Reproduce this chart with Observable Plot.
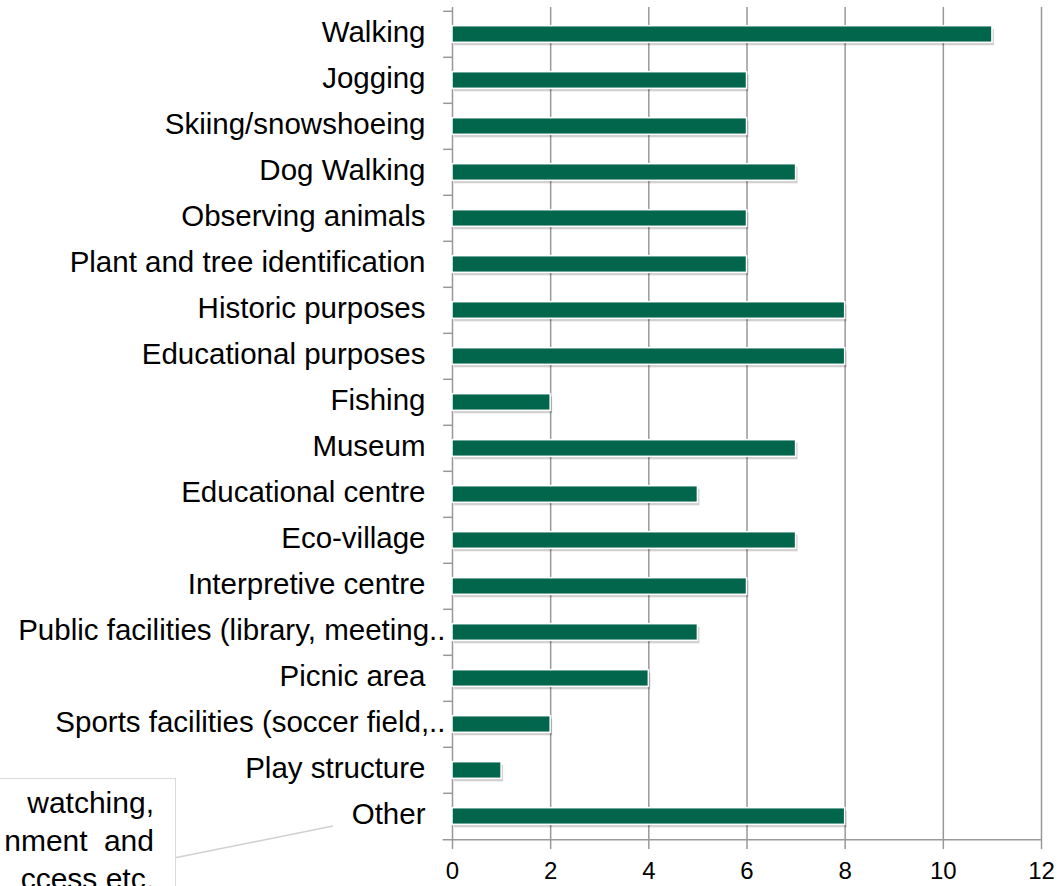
<!DOCTYPE html>
<html>
<head>
<meta charset="utf-8">
<script src="https://cdn.jsdelivr.net/npm/d3@7"></script>
<script src="https://cdn.jsdelivr.net/npm/@observablehq/plot@0.6"></script>
<style>
  html, body { margin: 0; padding: 0; background: #fff; overflow: hidden; }
  #wrap { position: relative; width: 1061px; height: 886px; overflow: hidden; font-family: "Liberation Sans", Arial, sans-serif; }
  #callout {
    position: absolute; left: -220px; top: 778px; width: 373px; height: 140px;
    border: 1px solid #d9d9d9; background: #fff; padding: 5px 21px 0 0;
    font-size: 30px; line-height: 38px; color: #000; text-align: right; white-space: nowrap;
  }
</style>
</head>
<body>
<div id="wrap"></div>
<script>
const categories = [
  "Walking", "Jogging", "Skiing/snowshoeing", "Dog Walking", "Observing animals",
  "Plant and tree identification", "Historic purposes", "Educational purposes", "Fishing",
  "Museum", "Educational centre", "Eco-village", "Interpretive centre",
  "Public facilities (library, meeting..", "Picnic area", "Sports facilities (soccer field,..",
  "Play structure", "Other"
];
const values = [11, 6, 6, 7, 6, 6, 8, 8, 2, 7, 5, 7, 6, 5, 4, 2, 1, 8];
const xTicks = [0, 2, 4, 6, 8, 10, 12];
const calloutLines = ["watching,", "nment and", "ccess etc."];

const data = categories.map((c, i) => ({category: c, value: values[i]}));
const truncated = categories.filter(c => c.endsWith(".."));
const normal = categories.filter(c => !c.endsWith(".."));

const W = 1061, H = 886, mT = 7, mB = 44, mL = 452, mR = 20;
const step = (H - mT - mB) / categories.length;
const inset = (step - 17) / 2;

const chart = Plot.plot({
  width: W, height: H,
  marginLeft: mL, marginRight: mR, marginTop: mT, marginBottom: mB,
  style: {fontFamily: "'Liberation Sans', Arial, sans-serif", fontSize: "29.5px", color: "#000", background: "#fff", overflow: "visible"},
  x: {domain: [0, 12]},
  y: {domain: categories, padding: 0},
  marks: [
    Plot.ruleX(xTicks.slice(1), {stroke: "#999", strokeWidth: 1.5}),
    Plot.ruleX([0], {stroke: "#999", strokeWidth: 1.5}),
    Plot.ruleY(categories, {x1: -0.18, x2: 0, dy: -step / 2, stroke: "#999", strokeWidth: 1.5}),
    Plot.ruleY([categories[categories.length - 1]], {x1: -0.19, x2: 12, dy: step / 2, stroke: "#999", strokeWidth: 1.5}),
    Plot.barX(data, {x: "value", y: "category", insetTop: inset, insetBottom: inset, dx: 2, dy: 3, fill: "#000", fillOpacity: 0.18}),
    Plot.barX(data, {x: "value", y: "category", insetTop: inset, insetBottom: inset, fill: "#02664d", stroke: "#fff", strokeWidth: 1.5}),
    Plot.axisY({ticks: normal, tickSize: 0, tickPadding: 27, dy: -2, label: null, fontSize: 29.5}),
    Plot.axisY({ticks: truncated, tickSize: 0, tickPadding: 7, dy: -2, label: null, fontSize: 29.5}),
    Plot.axisX({ticks: xTicks, tickSize: 7, tickPadding: 12, label: null, stroke: "#999", strokeWidth: 1.5, fontSize: 24})
  ]
});

const wrap = document.getElementById("wrap");
wrap.appendChild(chart);

// leader line from callout to "Other"
d3.select(chart).append("line")
  .attr("x1", 174).attr("y1", 858).attr("x2", 333).attr("y2", 826)
  .attr("stroke", "#d0d0d0").attr("stroke-width", 1.5);

const box = document.createElement("div");
box.id = "callout";
calloutLines.forEach((t, i) => {
  const d = document.createElement("div");
  d.textContent = t;
  if (i === 1) d.style.wordSpacing = "8px";
  box.appendChild(d);
});
wrap.appendChild(box);
</script>
</body>
</html>
